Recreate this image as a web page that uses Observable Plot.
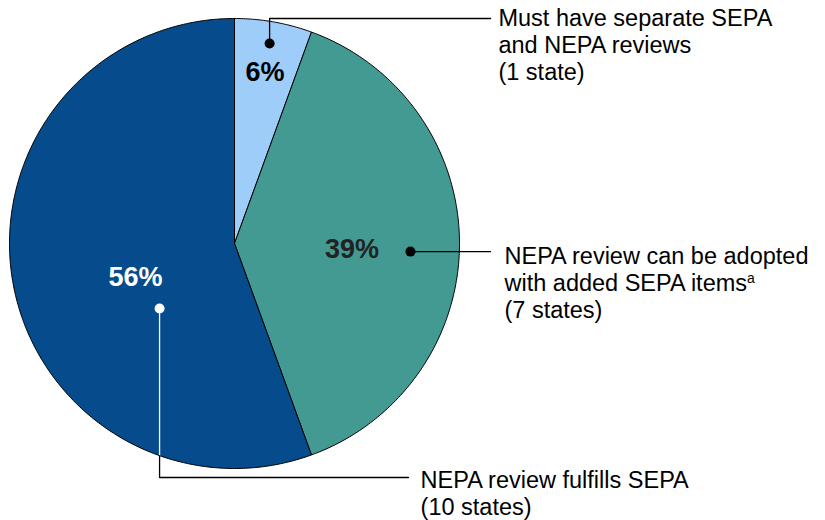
<!DOCTYPE html>
<html><head><meta charset="utf-8">
<script src="https://cdn.jsdelivr.net/npm/d3@7"></script>
<script src="https://cdn.jsdelivr.net/npm/@observablehq/plot@0.6"></script>
<style>body{margin:0;background:#fff}</style>
</head><body><div id="chart"></div>
<script>
// ---- data ----
const categories = ["Must have separate SEPA and NEPA reviews", "NEPA review can be adopted with added SEPA items", "NEPA review fulfills SEPA"];
const stateCounts = [1, 7, 10];
const percentLabels = ["6%", "39%", "56%"];
const legendLines = [
  ["Must have separate SEPA", "and NEPA reviews", "(1 state)"],
  ["NEPA review can be adopted", "with added SEPA items", "(7 states)"],
  ["NEPA review fulfills SEPA", "(10 states)"]
];
const footnoteMarks = ["", "a", ""];

// ---- styles / layout (unit circle coordinates, y up) ----
const sliceColors = ["#9fcdf9", "#429a92", "#064b8c"];
const pctColors = ["#000000", "#222222", "#ffffff"];
const pctPos = [[0.136, 0.76], [0.522, -0.024], [-0.44, -0.149]];
const dotPos = [[0.156, 0.889], [0.782, -0.036], [-0.333, -0.289]];
const dotColors = ["#000", "#000", "#fff"];
const legendPos = [[1.173, 0.884], [1.2, -0.173], [0.827, -1.109]];

// pie geometry via d3.pie (starts at top, clockwise)
const pie = d3.pie().sort(null).value(d => d.count)(categories.map((c, i) => ({cat: c, count: stateCounts[i]})));
const slicePts = [];
pie.forEach(s => {
  const n = Math.max(8, Math.ceil((s.endAngle - s.startAngle) / 0.01));
  slicePts.push({cat: s.data.cat, x: 0, y: 0});
  for (let k = 0; k <= n; k++) {
    const a = s.startAngle + (s.endAngle - s.startAngle) * k / n;
    slicePts.push({cat: s.data.cat, x: Math.sin(a), y: Math.cos(a)});
  }
  slicePts.push({cat: s.data.cat, x: 0, y: 0});
});

// leader lines
const edgeY3 = -Math.sqrt(1 - dotPos[2][0] ** 2);
const leaders = [
  {id: "a", c: "#000", pts: [dotPos[0], [dotPos[0][0], 1.0], [1.138, 1.0]]},
  {id: "b", c: "#000", pts: [dotPos[1], [1.138, dotPos[1][1]]]},
  {id: "c1", c: "#fff", pts: [dotPos[2], [dotPos[2][0], edgeY3]]},
  {id: "c2", c: "#000", pts: [[dotPos[2][0], edgeY3], [dotPos[2][0], -1.04], [0.773, -1.04]]}
];
const leaderPts = leaders.flatMap(l => l.pts.map(p => ({id: l.id, c: l.c, x: p[0], y: p[1]})));

const pctData = percentLabels.map((t, i) => ({t, x: pctPos[i][0], y: pctPos[i][1], c: pctColors[i]}));
const dotData = dotPos.map((p, i) => ({x: p[0], y: p[1], c: dotColors[i]}));
const legData = legendLines.map((ls, i) => ({t: ls.join("\n"), x: legendPos[i][0], y: legendPos[i][1]}));

const font = "Liberation Sans, Arial, Helvetica, sans-serif";
const chart = Plot.plot({
  width: 825, height: 520, margin: 0,
  x: {domain: [-234 / 225, (825 - 234) / 225], axis: null},
  y: {domain: [(243 - 520) / 225, 243 / 225], axis: null},
  color: {domain: categories, range: sliceColors},
  style: {fontFamily: font, background: "#fff"},
  marks: [
    Plot.line(slicePts, {x: "x", y: "y", z: "cat", fill: "cat", stroke: "#000", strokeWidth: 1, curve: "linear"}),
    Plot.line(leaderPts, {x: "x", y: "y", z: "id", stroke: "c", strokeWidth: 1.3}),
    Plot.dot(dotData, {x: "x", y: "y", r: 5, fill: "c", stroke: "none"}),
    Plot.text(pctData, {x: "x", y: "y", text: "t", fill: "c", fontSize: 27, fontWeight: "bold", fontFamily: font, textAnchor: "middle", lineAnchor: "middle"}),
    Plot.text(legData, {x: "x", y: "y", text: "t", fill: "#000", fontSize: 23.5, fontFamily: font, textAnchor: "start", lineAnchor: "middle", lineHeight: 1.14, className: "leg"})
  ]
});
document.getElementById("chart").appendChild(chart);

// superscript footnote marks
const legTexts = chart.querySelectorAll(".leg text");
legTexts.forEach((el, i) => {
  if (!footnoteMarks[i]) return;
  const lines = el.querySelectorAll("tspan");
  const target = lines[1];
  if (!target) return;
  const sup = document.createElementNS("http://www.w3.org/2000/svg", "tspan");
  sup.textContent = footnoteMarks[i];
  sup.setAttribute("font-size", "14");
  sup.setAttribute("baseline-shift", "super");
  target.appendChild(sup);
});
</script>
</body></html>
